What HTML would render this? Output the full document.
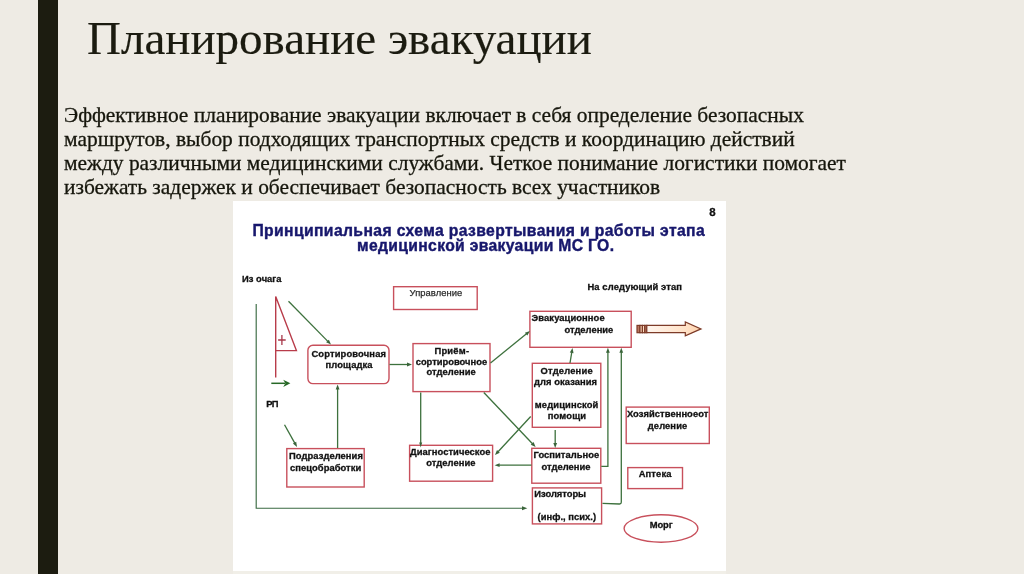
<!DOCTYPE html>
<html lang="ru">
<head>
<meta charset="utf-8">
<title>Планирование эвакуации</title>
<style>
  html, body { margin: 0; padding: 0; }
  body {
    width: 1024px; height: 574px; overflow: hidden; position: relative;
    background: #eeebe4;
    font-family: "Liberation Serif", serif;
    color: #1b1b10;
  }
  .bar { position: absolute; left: 38.3px; top: 0; width: 19.4px; height: 574px; background: #1c1c10; }
  .foot { position: absolute; left: 233px; top: 570.5px; width: 493.1px; height: 3.5px; background: #f1efe8; }
  h1 {
    position: absolute; left: 87px; top: 10.7px; margin: 0;
    font-weight: normal; font-size: 47px; line-height: 54px; white-space: nowrap;
    color: #1b1b10;
  }
  .body {
    position: absolute; left: 64px; top: 102.6px; margin: 0;
    font-size: 21.45px; line-height: 24.07px; white-space: nowrap;
    color: #1b1b10;
  }
  h1, .body, svg.d { will-change: transform; }
  h1 { -webkit-text-stroke: 0.18px #1b1b10; }
  .body { color: #16160c; -webkit-text-stroke: 0.3px #16160c; }
  .pic { position: absolute; left: 233px; top: 200.5px; width: 493.1px; height: 370px; background: #fff; }
  svg.d { position: absolute; left: 0; top: 0; width: 1024px; height: 574px; overflow: visible; }
  svg.d text { font-family: "Liberation Sans", sans-serif; font-weight: bold; font-size: 9.4px; fill: #111; stroke: #111; stroke-width: 0.3px; }
  svg.d text.hd { font-size: 15.7px; fill: #17176c; stroke: #17176c; stroke-width: 0.4px; }
  svg.d text.rg { font-weight: normal; fill: #2c2c2c; stroke: #2c2c2c; stroke-width: 0.25px; }
  svg.d .box { fill: #fff; stroke: #c8505c; stroke-width: 1.4; }
  svg.d .g { fill: none; stroke: #3d713d; stroke-width: 1.3; }
  svg.d .gh { fill: #3a643a; stroke: none; }
</style>
</head>
<body>
<div class="bar"></div>
<h1>Планирование эвакуации</h1>
<p class="body">Эффективное планирование эвакуации включает в себя определение безопасных<br>маршрутов, выбор подходящих транспортных средств и координацию действий<br>между различными медицинскими службами. Четкое понимание логистики помогает<br>избежать задержек и обеспечивает безопасность всех участников</p>
<div class="pic"></div>
<svg class="d" viewBox="0 0 1024 574">
<text x="252.4" y="235.6" textLength="452.3" lengthAdjust="spacing" class="hd">Принципиальная схема развертывания и работы этапа</text>
<text x="357" y="250.9" textLength="257" lengthAdjust="spacing" class="hd">медицинской эвакуации МС ГО.</text>
<text x="709.2" y="215.9" style="font-size:11.5px">8</text>
<text x="587.4" y="289.9" textLength="94.6" lengthAdjust="spacing">На следующий этап</text>
<text x="242" y="281.6" textLength="39.5" lengthAdjust="spacing">Из очага</text>
<text x="266.2" y="406.7" textLength="12.3" lengthAdjust="spacing">РП</text>
<polyline class="g" points="256.2,304 256.2,508.2 522,508.2" style="stroke-width:1.15;stroke:#3a6a42"/>
<polygon class="gh" points="527.3,508.2 522,506.2 522,510.2"/>
<path d="M275.7 377.5 L275.7 296.6 L296.4 350.6 L275.7 350.6" fill="none" stroke="#b83c4a" stroke-width="1.4"/>
<path d="M278.1 340 H285.7 M281.9 334.9 V345.1" fill="none" stroke="#a8384a" stroke-width="1.3"/>
<path d="M271.3 383.3 H285" fill="none" stroke="#266826" stroke-width="1.5"/><polygon points="283.2,379.8 290.4,383.3 283.2,386.9 285.4,383.3" fill="#266826"/>
<rect class="box" x="307.9" y="345.3" width="81.1" height="38.3" rx="5"/>
<text x="311.4" y="357.2" textLength="74.6" lengthAdjust="spacing">Сортировочная</text>
<text x="325.5" y="368.2" textLength="47.0" lengthAdjust="spacing">площадка</text>
<rect class="box" x="393.6" y="286.7" width="83.6" height="22.8"/>
<text x="409.6" y="296.4" textLength="52.6" lengthAdjust="spacing" class="rg">Управление</text>
<rect class="box" x="413" y="343.6" width="77" height="48.0"/>
<text x="434.5" y="353.5" textLength="34.5" lengthAdjust="spacing">Приём-</text>
<text x="415.7" y="364.6" textLength="71.4" lengthAdjust="spacing">сортировочное</text>
<text x="426.5" y="375.4" textLength="49.2" lengthAdjust="spacing">отделение</text>
<rect class="box" x="529.9" y="311.3" width="101.3" height="36.0"/>
<text x="531.6" y="320.9" textLength="73.0" lengthAdjust="spacing">Эвакуационное</text>
<text x="564.4" y="332.6" textLength="48.9" lengthAdjust="spacing">отделение</text>
<rect class="box" x="532.3" y="363.3" width="68.5" height="64.0"/>
<text x="540.6" y="373.5" textLength="52.0" lengthAdjust="spacing">Отделение</text>
<text x="534" y="384.8" textLength="63" lengthAdjust="spacing">для оказания</text>
<text x="534.8" y="408.0" textLength="63.5" lengthAdjust="spacing">медицинской</text>
<text x="547.8" y="419.2" textLength="38.2" lengthAdjust="spacing">помощи</text>
<rect class="box" x="531.8" y="448.3" width="69.0" height="34.9"/>
<text x="533.5" y="458.1" textLength="65.8" lengthAdjust="spacing">Госпитальное</text>
<text x="541.5" y="470.1" textLength="49.0" lengthAdjust="spacing">отделение</text>
<rect class="box" x="532.4" y="487.9" width="69.2" height="36.0"/>
<text x="534.3" y="496.7" textLength="51.8" lengthAdjust="spacing">Изоляторы</text>
<text x="537.6" y="519.6" textLength="58.5" lengthAdjust="spacing">(инф., псих.)</text>
<rect class="box" x="409.6" y="445.3" width="83.0" height="35.9"/>
<text x="410" y="455.1" textLength="80.5" lengthAdjust="spacing">Диагностическое</text>
<text x="426.2" y="466.4" textLength="49.3" lengthAdjust="spacing">отделение</text>
<rect class="box" x="286.8" y="448.6" width="77.4" height="38.4"/>
<text x="289" y="459.2" textLength="73.9" lengthAdjust="spacing">Подразделения</text>
<text x="290" y="470.6" textLength="71.2" lengthAdjust="spacing">спецобработки</text>
<rect class="box" x="626.2" y="407.1" width="83.1" height="36.4"/>
<text x="626.9" y="416.8" textLength="81.4" lengthAdjust="spacing">Хозяйственноеот</text>
<text x="647.8" y="428.9" textLength="39.4" lengthAdjust="spacing">деление</text>
<rect class="box" x="627.8" y="467.6" width="54.7" height="21.0"/>
<text x="638.7" y="476.8" textLength="32.7" lengthAdjust="spacing">Аптека</text>
<ellipse class="box" cx="661" cy="528.5" rx="36.9" ry="13.7"/>
<text x="649.8" y="528.2" textLength="22.8" lengthAdjust="spacing">Морг</text>
<line class="g" x1="288.5" y1="301.3" x2="327.85" y2="341.39"/><polygon class="gh" points="331,344.6 326.14,342.36 328.85,339.7"/>
<line class="g" x1="389.5" y1="364.5" x2="407.5" y2="364.5"/><polygon class="gh" points="412,364.5 407.0,366.4 407.0,362.6"/>
<line class="g" x1="490.5" y1="363" x2="526.5" y2="333.83"/><polygon class="gh" points="530,331 527.31,335.62 524.92,332.67"/>
<line class="g" x1="420.7" y1="392.5" x2="420.7" y2="443.0"/><polygon class="gh" points="420.7,447.5 419.2,442.5 422.2,442.5"/>
<line class="g" x1="483.8" y1="392.5" x2="532.5" y2="443.74"/><polygon class="gh" points="535.6,447 530.78,444.68 533.53,442.07"/>
<line class="g" x1="530.7" y1="416.5" x2="498.06" y2="451.7"/><polygon class="gh" points="495,455 497.01,450.04 499.79,452.63"/>
<line class="g" x1="531.5" y1="465.2" x2="499.1" y2="465.2"/><polygon class="gh" points="494.6,465.2 499.6,463.3 499.6,467.1"/>
<line class="g" x1="555.2" y1="430" x2="555.2" y2="443.5"/><polygon class="gh" points="555.2,448 553.3,443.0 557.1,443.0"/>
<line class="g" x1="570" y1="363" x2="571.76" y2="352.44"/><polygon class="gh" points="572.5,348 573.55,353.24 569.8,352.62"/>
<line class="g" x1="337.6" y1="448" x2="337.6" y2="389.0"/><polygon class="gh" points="337.6,384.5 339.5,389.5 335.7,389.5"/>
<line class="g" x1="284.5" y1="424.8" x2="294.79" y2="443.08"/><polygon class="gh" points="297,447 292.89,443.58 296.2,441.71"/>
<polyline class="g" points="601.3,466.3 607.9,466.3 607.9,352"/>
<polygon class="gh" points="607.9,347.8 606,352.8 609.8,352.8"/>
<path class="g" d="M602.5 503.3 L619.5 504 Q621.3 504 621.3 502.2 L621.3 352"/>
<polygon class="gh" points="621.3,347.8 619.4,352.8 623.2,352.8"/>
<defs><linearGradient id="ag" x1="0" y1="0" x2="1" y2="0"><stop offset="0" stop-color="#fff6ef"/><stop offset="0.75" stop-color="#ffe0c4"/><stop offset="1" stop-color="#ffd2ac"/></linearGradient></defs><g fill="#ffe6d2" stroke="#7d3b28" stroke-width="1.2" stroke-linejoin="miter"><rect x="637" y="325.4" width="3" height="7.3" fill="#b9775f"/><rect x="640" y="325.4" width="2.4" height="7.3" fill="#ffdcc0"/><rect x="642.4" y="325.4" width="2.4" height="7.3" fill="#ffdcc0"/><rect x="644.8" y="325.4" width="2" height="7.3" fill="#b9775f"/><path fill="url(#ag)" d="M646.8 325.4 H685.3 V321.9 L701 328.9 L685.3 335.9 V332.7 H646.8 Z"/></g>
</svg>
<div class="foot"></div>
</body>
</html>
